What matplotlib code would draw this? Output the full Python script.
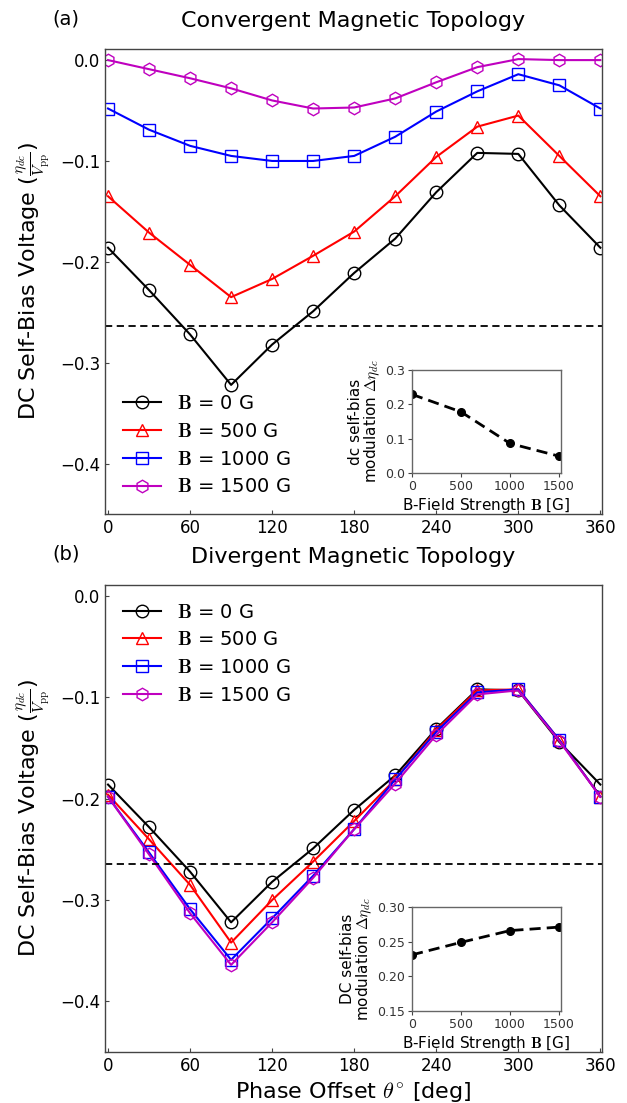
import matplotlib
matplotlib.use('Agg')
import matplotlib.pyplot as plt

plt.rcParams['font.family'] = ['DejaVu Sans']
plt.rcParams['mathtext.fontset'] = 'cm'

# ---------------- data ----------------
phase = [0, 30, 60, 90, 120, 150, 180, 210, 240, 270, 300, 330, 360]

conv_0 = [-0.186, -0.228, -0.272, -0.322, -0.282, -0.249, -0.211, -0.177, -0.131, -0.092, -0.093, -0.144, -0.186]
conv_500 = [-0.135, -0.171, -0.203, -0.235, -0.217, -0.194, -0.170, -0.135, -0.096, -0.066, -0.055, -0.095, -0.135]
conv_1000 = [-0.048, -0.069, -0.085, -0.095, -0.100, -0.100, -0.095, -0.076, -0.051, -0.031, -0.014, -0.025, -0.048]
conv_1500 = [0.0, -0.009, -0.018, -0.028, -0.040, -0.048, -0.047, -0.038, -0.022, -0.007, 0.001, 0.0, 0.0]

div_0 = conv_0
div_500 = [-0.196, -0.240, -0.285, -0.342, -0.300, -0.262, -0.222, -0.181, -0.132, -0.093, -0.092, -0.142, -0.198]
div_1000 = [-0.198, -0.253, -0.309, -0.359, -0.318, -0.276, -0.230, -0.181, -0.134, -0.095, -0.092, -0.142, -0.198]
div_1500 = [-0.198, -0.255, -0.313, -0.364, -0.322, -0.278, -0.230, -0.185, -0.137, -0.097, -0.093, -0.143, -0.198]

ref_level = -0.264

field = [0, 500, 1000, 1500]
conv_mod = [0.229, 0.178, 0.086, 0.049]
div_mod = [0.231, 0.249, 0.266, 0.271]

labels = [r'$\mathbf{B}$ = 0 G', r'$\mathbf{B}$ = 500 G',
          r'$\mathbf{B}$ = 1000 G', r'$\mathbf{B}$ = 1500 G']
colors = ['k', 'r', 'b', 'm']
markers = ['o', '^', 's', 'h']
xticks = [0, 60, 120, 180, 240, 300, 360]
yticks = [0.0, -0.1, -0.2, -0.3, -0.4]

# ---------------- layout ----------------
W, H = 627, 1103
fig = plt.figure(figsize=(W / 100, H / 100), dpi=100)


def px_axes(l, t, r, b):
    return [l / W, 1 - b / H, (r - l) / W, (b - t) / H]


ax_a = fig.add_axes(px_axes(105, 49, 602, 514))
ax_b = fig.add_axes(px_axes(105, 585, 602, 1052))
in_a = fig.add_axes(px_axes(412, 370, 561, 473))
in_b = fig.add_axes(px_axes(412, 907, 561, 1011))

spine_col = '#444444'


def main_panel(ax, series, title, tag, legloc):
    for ys, c, m, lab in zip(series, colors, markers, labels):
        ax.plot(phase, ys, color=c, marker=m, mfc='none', mec=c, ms=9,
                mew=1.0, lw=1.5, label=lab)
    ax.axhline(ref_level, color='k', ls='--', lw=1.3, dashes=(4, 2.5))
    ax.set_xlim(-2.2, 361.2)
    ax.set_ylim(-0.45, 0.011)
    ax.set_xticks(xticks)
    ax.set_yticks(yticks)
    ax.tick_params(axis='both', labelsize=12, length=3, width=0.8,
                   direction='in', color=spine_col)
    for s in ax.spines.values():
        s.set_color(spine_col)
        s.set_linewidth(1.0)
    ax.set_title(title, fontsize=16, pad=16)
    ax.text(-0.105, 1.045, tag, transform=ax.transAxes, fontsize=14,
            ha='left', va='bottom')
    ax.set_ylabel(r'DC Self-Bias Voltage ($\frac{\eta_{dc}}{V_{\rm pp}}$)',
                  fontsize=16, labelpad=6)
    ax.legend(loc=legloc, frameon=False, fontsize=14, handlelength=2.0,
              labelspacing=0.45)


main_panel(ax_a, [conv_0, conv_500, conv_1000, conv_1500],
           'Convergent Magnetic Topology', '(a)', 'lower left')
main_panel(ax_b, [div_0, div_500, div_1000, div_1500],
           'Divergent Magnetic Topology', '(b)', 'upper left')
ax_b.set_xlabel(r'Phase Offset $\theta^{\circ}$ [deg]', fontsize=16, labelpad=4)


def inset(ax, vals, ylim, yticks_in, ylab):
    ax.plot(field, vals, color='k', ls='--', lw=2, dashes=(4, 2.2),
            marker='o', ms=5.5)
    ax.set_xlim(0, 1520)
    ax.set_ylim(*ylim)
    ax.set_xticks([0, 500, 1000, 1500])
    ax.set_yticks(yticks_in)
    ax.tick_params(axis='both', labelsize=9, length=3, width=0.8,
                   labelcolor='#333333', color=spine_col, pad=2)
    for s in ax.spines.values():
        s.set_color('#666666')
        s.set_linewidth(1.0)
    ax.set_xlabel(r'B-Field Strength $\mathbf{B}$ [G]', fontsize=11, labelpad=2)
    ax.set_ylabel(ylab, fontsize=11, labelpad=2, linespacing=1.0)


inset(in_a, conv_mod, (0.0, 0.3), [0.0, 0.1, 0.2, 0.3],
      'dc self-bias\nmodulation $\\Delta\\eta_{dc}$')
in_a.set_yticklabels(['0.0', '0.1', '0.2', '0.3'])
inset(in_b, div_mod, (0.15, 0.30), [0.15, 0.20, 0.25, 0.30],
      'DC self-bias\nmodulation $\\Delta\\eta_{dc}$')
in_b.set_yticklabels(['0.15', '0.20', '0.25', '0.30'])

fig.savefig('out.png', dpi=100)
